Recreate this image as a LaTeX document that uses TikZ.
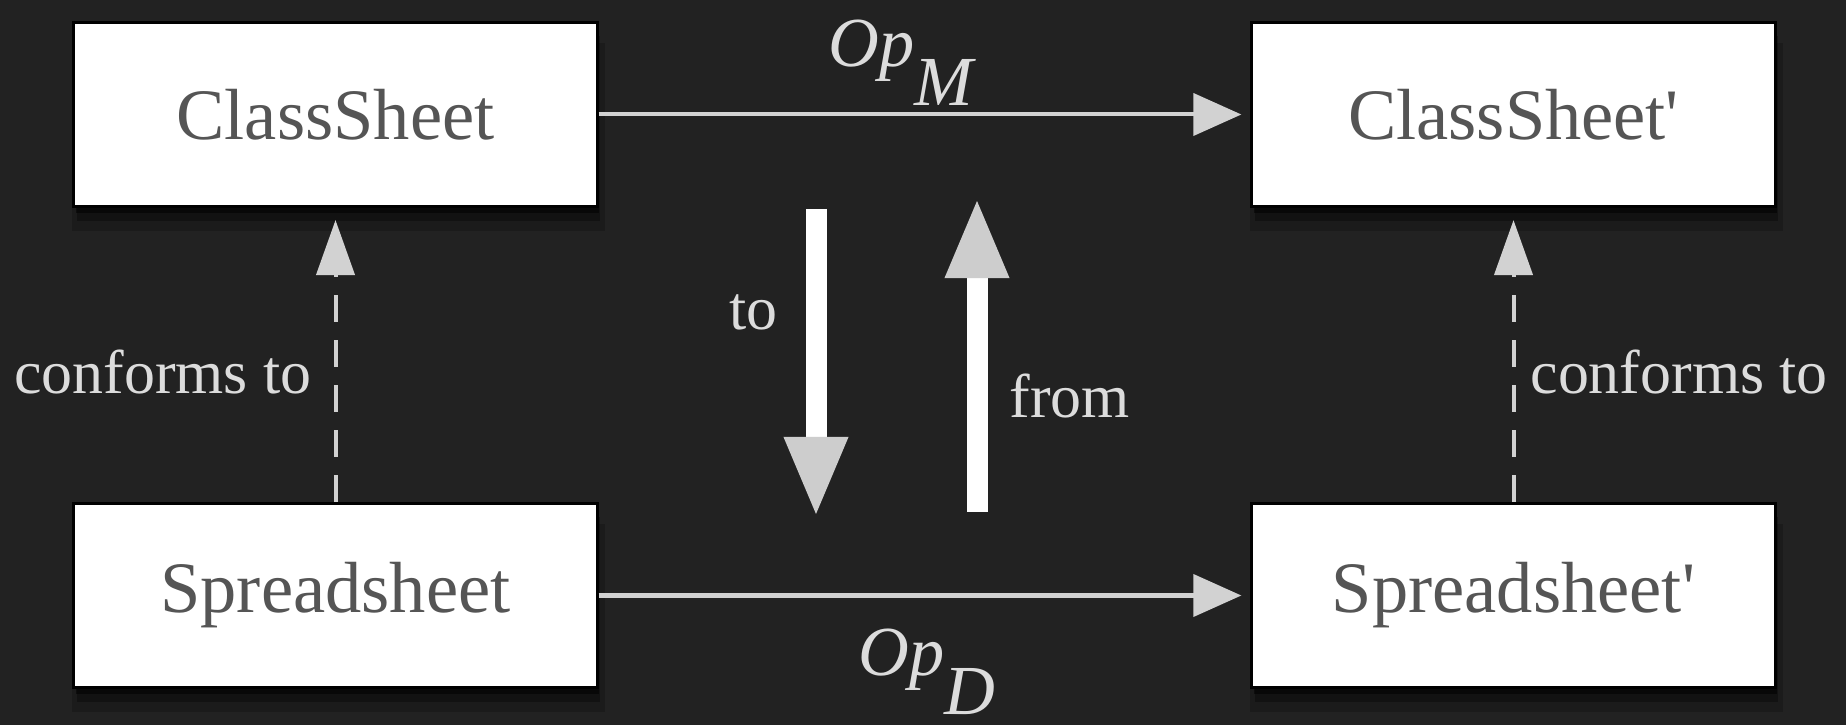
\documentclass[tikz,border=0pt]{standalone}
\usepackage{fontspec}
\setmainfont{Liberation Serif}
\usepackage{xcolor}
\usetikzlibrary{arrows.meta,shadows}
\definecolor{bgdark}{RGB}{34,34,34}
\definecolor{boxtext}{RGB}{85,85,85}
\definecolor{labelgrey}{RGB}{220,220,220}
\definecolor{linegrey}{RGB}{210,210,210}
\definecolor{headgrey}{RGB}{205,205,205}

\tikzset{
  sheetbox/.style={draw=black, line width=0.03cm, fill=white, minimum width=5.23cm, minimum height=1.84cm,
    text=boxtext, font=\fontsize{20.6}{24}\selectfont,
    drop shadow={shadow xshift=0.03cm, shadow yshift=-0.22cm, shadow scale=1.02, opacity=0.2, fill=black},
    drop shadow={shadow xshift=0.03cm, shadow yshift=-0.14cm, opacity=0.3, fill=black},
    drop shadow={shadow xshift=0.02cm, shadow yshift=-0.06cm, opacity=0.5, fill=black}},
  oparrow/.style={draw=linegrey, line width=0.04cm, -{Triangle[width=0.42cm,length=0.48cm]}, shorten >=0.09cm},
  conformarrow/.style={draw=linegrey, line width=0.04cm, dash pattern=on 0.27cm off 0.18cm,
    -{Triangle[width=0.38cm,length=0.55cm]}, shorten >=0.12cm},
  bigarrow/.style={draw=white, line width=0.21cm, -{Triangle[width=0.58cm,length=0.81cm,color=headgrey]}},
  lbl/.style={text=labelgrey, inner sep=0pt, font=\fontsize{17.6}{20}\selectfont},
  oplbl/.style={text=labelgrey, inner sep=0pt, font=\fontsize{20}{24}\selectfont\itshape},
}

\begin{document}
\begin{tikzpicture}[x=0.01cm, y=-0.01cm]
% background
\fill[bgdark] (0,0) rectangle (1846,725);
\useasboundingbox (0,0) rectangle (1846,725);

% the four sheets
\node[sheetbox] (cs) at (335.5,114.5) {ClassSheet};
\node[sheetbox] (ss) at (335.5,595.5) {Spreadsheet};
\node[sheetbox] (csp) at (1513.5,114.5) {ClassSheet\textquotesingle};
\node[sheetbox] (ssp) at (1513.5,595.5) {Spreadsheet\textquotesingle};

% evolution operations
\draw[oparrow] (cs) -- (csp) node[oplbl, pos=0.35, anchor=base west, yshift=0.475cm] (opm) {Op\raisebox{-0.55em}{M}};
\draw[oparrow] (ss) -- (ssp) node[oplbl, pos=0.396, anchor=base west, yshift=-0.8cm] (opd) {Op\raisebox{-0.55em}{D}};

% conformance
\draw[conformarrow] (ss) -- (cs) node[lbl, pos=0.37, anchor=base east, xshift=-0.22cm] (confl) {conforms to};
\draw[conformarrow] (ssp) -- (csp) node[lbl, pos=0.37, anchor=base west, xshift=0.15cm] (confr) {conforms to};

% to / from
\coordinate (tostart) at (816,209);
\coordinate (toend) at (816,518);
\coordinate (fromstart) at (977,512);
\coordinate (fromend) at (977,197);
\draw[bigarrow] (tostart) -- (toend) node[lbl, pos=0.39, anchor=base east, xshift=-0.28cm] (tolbl) {to};
\draw[bigarrow] (fromstart) -- (fromend) node[lbl, pos=0.30, anchor=base west, xshift=0.22cm] (fromlbl) {from};
\end{tikzpicture}
\end{document}
